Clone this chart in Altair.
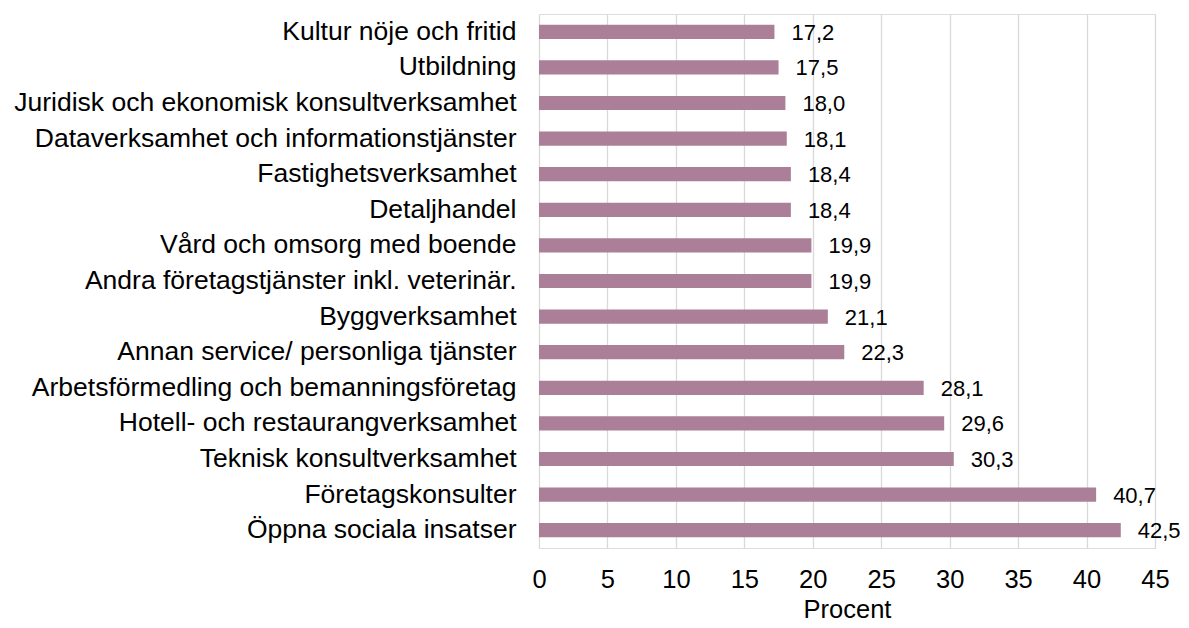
import altair as alt
import pandas as pd

categories = [
    "Kultur nöje och fritid",
    "Utbildning",
    "Juridisk och ekonomisk konsultverksamhet",
    "Dataverksamhet och informationstjänster",
    "Fastighetsverksamhet",
    "Detaljhandel",
    "Vård och omsorg med boende",
    "Andra företagstjänster inkl. veterinär.",
    "Byggverksamhet",
    "Annan service/ personliga tjänster",
    "Arbetsförmedling och bemanningsföretag",
    "Hotell- och restaurangverksamhet",
    "Teknisk konsultverksamhet",
    "Företagskonsulter",
    "Öppna sociala insatser",
]
values = [17.2, 17.5, 18.0, 18.1, 18.4, 18.4, 19.9, 19.9, 21.1, 22.3, 28.1, 29.6, 30.3, 40.7, 42.5]
x_ticks = [0, 5, 10, 15, 20, 25, 30, 35, 40, 45]

df = pd.DataFrame({"kategori": categories, "procent": values})
df["etikett"] = [f"{v:.1f}".replace(".", ",") for v in values]

FONT = "Liberation Sans"

y = alt.Y("kategori:N", sort=categories, title=None,
          scale=alt.Scale(paddingInner=0.6, paddingOuter=0.3),
          axis=alt.Axis(labelFontSize=26.5, labelColor="#000000", labelFont=FONT,
                        ticks=False, domain=False, labelPadding=23, labelLimit=800))
x = alt.X("procent:Q", title="Procent",
          scale=alt.Scale(domain=[0, 45], nice=False),
          axis=alt.Axis(values=x_ticks, labelFontSize=25.5, labelColor="#000000", labelFont=FONT,
                        labelFlush=False,
                        titleFontSize=25.5, titleFont=FONT, titleFontWeight="normal", titleColor="#000000",
                        ticks=False, domain=False, gridColor="#D9D9D9", gridWidth=1.3,
                        labelPadding=19, titlePadding=5))

bars = alt.Chart(df).mark_bar(color="#AB7F97").encode(x=x, y=y)
text = alt.Chart(df).mark_text(align="left", baseline="middle", dx=17, dy=1,
                               fontSize=22, font=FONT, color="#000000").encode(
    x="procent:Q", y=alt.Y("kategori:N", sort=categories), text="etikett:N")

chart = (bars + text).properties(
    width=616, height=534,
    autosize=alt.AutoSizeParams(type="none"),
    padding={"top": 6, "left": 531, "right": 26, "bottom": 75},
).configure_view(stroke=None).configure(background="#ffffff")

chart.save("out.html", embed_options={"renderer": "svg", "actions": False})
